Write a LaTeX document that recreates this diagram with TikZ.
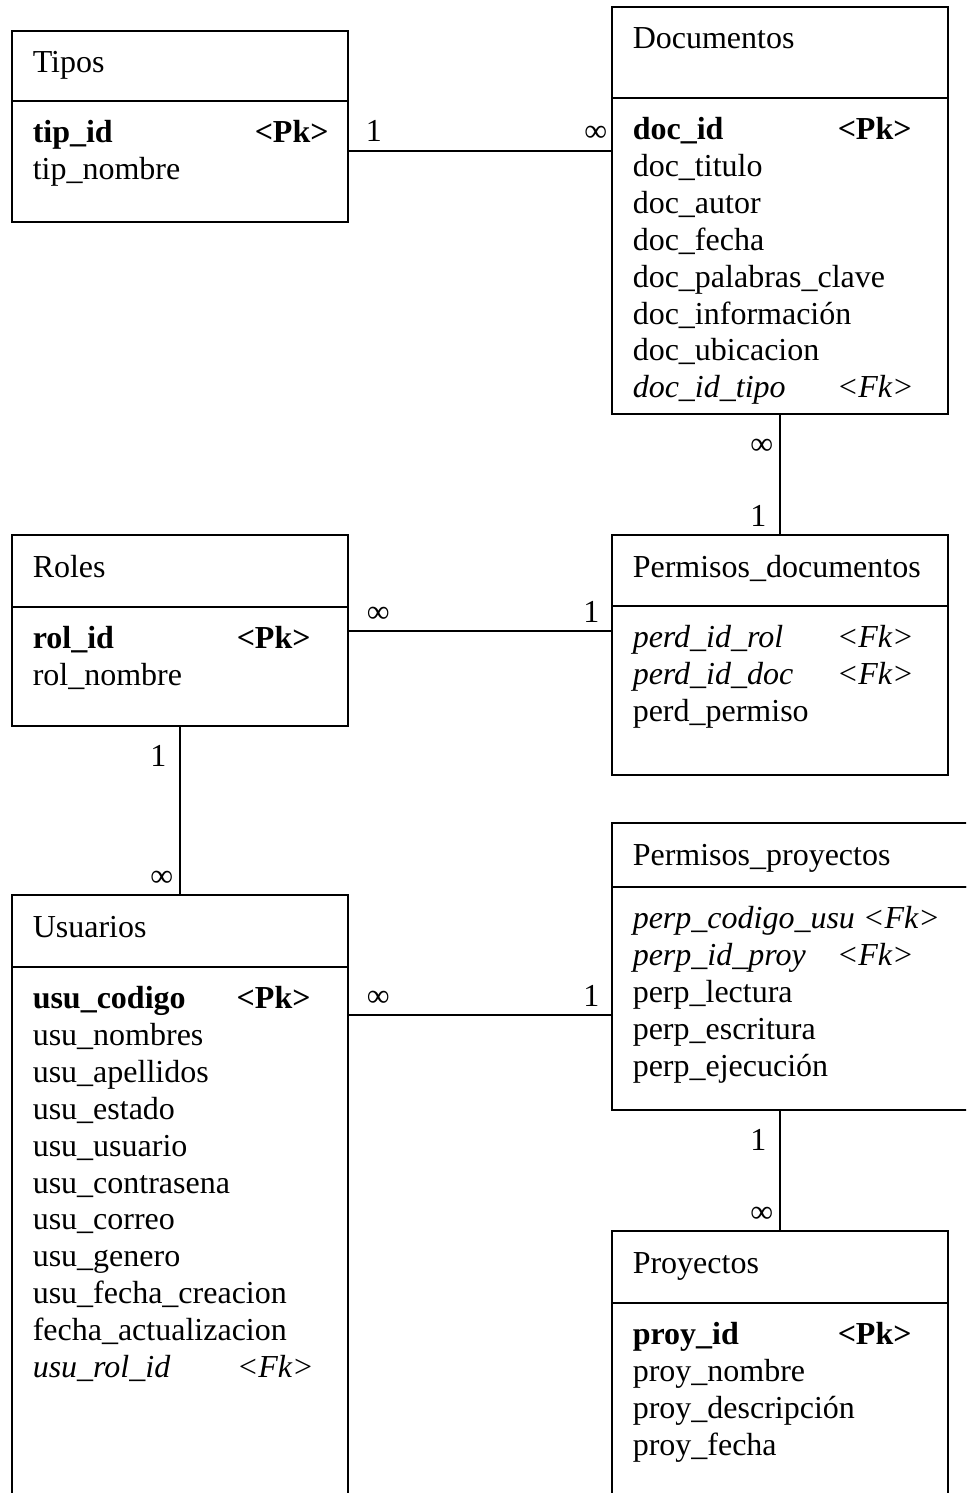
\documentclass[tikz,border=0pt]{standalone}
\usepackage{fontspec}
\setmainfont{Liberation Serif}
\usetikzlibrary{positioning}

\begin{document}
\begin{tikzpicture}[x=1pt,y=-1pt,line width=1.5pt,
	caja/.style={draw,anchor=north west,inner sep=0pt,outer sep=0pt},
	texto/.style={anchor=base west,inner sep=0pt,font=\fontsize{32}{37}\selectfont},
	card/.style={inner sep=0pt,font=\fontsize{32}{37}\selectfont}]
\newcommand{\clave}[2][204pt]{\makebox[#1][l]{\textbf{#2}}\textbf{<Pk>}}
\newcommand{\foranea}[2][204pt]{\textit{\makebox[#1][l]{#2}<Fk>}}
\newcommand{\tabla}[7]{%
	\node[caja,minimum width=#3,minimum height=#4] (#1h) at #2 {};
	\node[caja,minimum width=#3,minimum height=#5] (#1) at (#1h.south west) {};
	\node[texto] (#1t) at ([shift={(20,42)}]#1h.north west) {#6};
	\foreach \fila [count=\i] in {#7}
		\node[texto] (#1-\i) at ([shift={(20,4.6+36.9*\i)}]#1.north west) {\fila};
}

\useasboundingbox (0,0) rectangle (966,1493);
\clip (0,0) rectangle (966,1493);

\tabla{tipos}{(12,31)}{336}{70}{121}{Tipos}{\clave[222pt]{tip\_id}, tip\_nombre}
\tabla{docs}{(612,7)}{336}{91}{316}{Documentos}{\clave[205pt]{doc\_id}, doc\_titulo, doc\_autor, doc\_fecha, doc\_palabras\_clave, doc\_información, doc\_ubicacion, \foranea{doc\_id\_tipo}}
\tabla{roles}{(12,535)}{336}{72}{119}{Roles}{\clave{rol\_id}, rol\_nombre}
\tabla{permdocs}{(612,535)}{336}{71}{169}{Permisos\_documentos}{\foranea{perd\_id\_rol}, \foranea{perd\_id\_doc}, perd\_permiso}
\tabla{permproy}{(612,823)}{390}{64}{223}{Permisos\_proyectos}{\textit{perp\_codigo\_usu <Fk>}, \foranea{perp\_id\_proy}, perp\_lectura, perp\_escritura, perp\_ejecución}
\tabla{usuarios}{(12,895)}{336}{72}{560}{Usuarios}{\clave{usu\_codigo}, usu\_nombres, usu\_apellidos, usu\_estado, usu\_usuario, usu\_contrasena, usu\_correo, usu\_genero, usu\_fecha\_creacion, fecha\_actualizacion, \foranea{usu\_rol\_id}}
\tabla{proyectos}{(612,1231)}{336}{72}{250}{Proyectos}{\clave[205pt]{proy\_id}, proy\_nombre, proy\_descripción, proy\_fecha}

\draw (tipos.east |- 0,151) -- (docs.west |- 0,151)
	node[card,at start,anchor=base west,xshift=17pt,yshift=9pt]{1}
	node[card,at end,anchor=base east,xshift=-4pt,yshift=9pt]{∞};
\draw (docs.south) -- (permdocsh.north)
	node[card,at start,anchor=base east,xshift=-6pt,yshift=-40pt]{∞}
	node[card,at end,anchor=base east,xshift=-13pt,yshift=9pt]{1};
\draw (roles.east |- 0,631) -- (permdocs.west |- 0,631)
	node[card,at start,anchor=base west,xshift=18pt,yshift=9pt]{∞}
	node[card,at end,anchor=base east,xshift=-12pt,yshift=9pt]{1};
\draw (roles.south) -- (usuariosh.north)
	node[card,at start,anchor=base east,xshift=-13pt,yshift=-40pt]{1}
	node[card,at end,anchor=base east,xshift=-6pt,yshift=9pt]{∞};
\draw (usuarios.east |- 0,1015) -- (permproy.west |- 0,1015)
	node[card,at start,anchor=base west,xshift=18pt,yshift=9pt]{∞}
	node[card,at end,anchor=base east,xshift=-12pt,yshift=9pt]{1};
\draw (proyectosh.north |- permproy.south) -- (proyectosh.north)
	node[card,at start,anchor=base east,xshift=-13pt,yshift=-40pt]{1}
	node[card,at end,anchor=base east,xshift=-6pt,yshift=9pt]{∞};
\end{tikzpicture}
\end{document}
